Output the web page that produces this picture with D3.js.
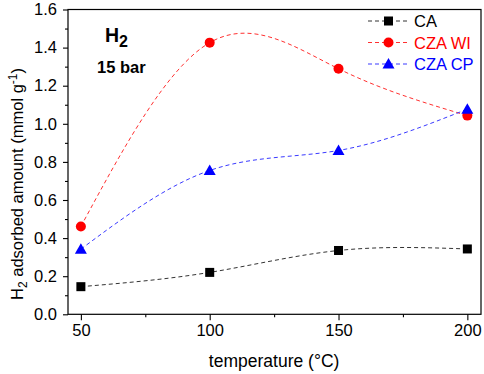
<!DOCTYPE html>
<html>
<head>
<meta charset="utf-8">
<script src="https://cdn.jsdelivr.net/npm/d3@7"></script>
<style>
  body { margin: 0; background: #fff; }
  text { font-family: "Liberation Sans", Arial, sans-serif; }
</style>
</head>
<body>
<script>
// temperatures (°C) and adsorbed amounts (mmol/g)
let temps = [50, 100, 150, 200];
let ca = [0.145, 0.22, 0.335, 0.343];
let czaWI = [0.461, 1.426, 1.289, 1.043];
let czaCP = [0.342, 0.755, 0.86, 1.077];
let yTicks = [0.0, 0.2, 0.4, 0.6, 0.8, 1.0, 1.2, 1.4, 1.6];
let xTicks = [50, 100, 150, 200];

let series = [
    {name: 'CA', values: ca, color: '#000', line: '#333', marker: 'square'},
    {name: 'CZA WI', values: czaWI, color: '#ff0000', line: '#ff3030', marker: 'circle'},
    {name: 'CZA CP', values: czaCP, color: '#0000ff', line: '#3a3aff', marker: 'triangle'}
];

let width = 484, height = 374;
let margin = {top: 9.5, right: 3, bottom: 60, left: 68};

let svg = d3.select('body').append('svg')
    .attr('width', width)
    .attr('height', height);

let x = d3.scaleLinear().domain([45, 205.3]).range([margin.left, width - margin.right]);
let y = d3.scaleLinear().domain([0, 1.6]).range([height - margin.bottom + 0.3, margin.top]);

// frame
svg.append('rect')
    .attr('x', x.range()[0]).attr('y', y.range()[1])
    .attr('width', x.range()[1] - x.range()[0])
    .attr('height', y.range()[0] - y.range()[1])
    .style('fill', 'none').style('stroke', '#000').style('stroke-width', 1.2);

// x axis
svg.append('g')
    .attr('transform', 'translate(0,' + y(0) + ')')
    .call(d3.axisBottom(x).tickValues(xTicks).tickSize(6).tickPadding(4).tickFormat(d3.format('d')));
svg.append('g')
    .attr('transform', 'translate(0,' + y(0) + ')')
    .call(d3.axisBottom(x).tickValues([75, 125, 175]).tickSize(3).tickFormat(''));

// y axis
svg.append('g')
    .attr('transform', 'translate(' + x.range()[0] + ',0)')
    .call(d3.axisLeft(y).tickValues(yTicks).tickSize(5).tickPadding(6).tickFormat(d3.format('.1f')));
svg.append('g')
    .attr('transform', 'translate(' + x.range()[0] + ',0)')
    .call(d3.axisLeft(y).tickValues(d3.range(0.1, 1.6, 0.2)).tickSize(3).tickFormat(''));

svg.selectAll('.domain').remove();
svg.selectAll('.tick line').style('stroke', '#000').style('stroke-width', 1.1);
svg.selectAll('.tick text').style('font-size', '16.5px').style('fill', '#000')
    .style('font-family', '"Liberation Sans", Arial, sans-serif');

// curves
let line = d3.line()
    .x((d, i) => x(temps[i]))
    .y(d => y(d))
    .curve(d3.curveNatural);

function drawMarker(sel, type, color, cx, cy) {
    if (type === 'square') {
        sel.append('rect').attr('x', cx - 4.5).attr('y', cy - 4.5)
            .attr('width', 9).attr('height', 9).style('fill', color);
    } else if (type === 'circle') {
        sel.append('circle').attr('cx', cx).attr('cy', cy).attr('r', 5)
            .style('fill', color);
    } else {
        let s = 6;
        sel.append('path')
            .attr('d', 'M' + cx + ',' + (cy - s) + 'L' + (cx + s) + ',' + (cy + s * 0.75) +
                'L' + (cx - s) + ',' + (cy + s * 0.75) + 'Z')
            .style('fill', color);
    }
}

series.forEach(s => {
    svg.append('path')
        .attr('d', line(s.values))
        .style('fill', 'none')
        .style('stroke', s.line)
        .style('stroke-width', 1)
        .style('stroke-dasharray', '4,3');
});

series.forEach(s => {
    let g = svg.append('g');
    s.values.forEach((v, i) => drawMarker(g, s.marker, s.color, x(temps[i]), y(v)));
});

// legend
series.forEach((s, i) => {
    let ly = 21 + i * 21.5;
    svg.append('line')
        .attr('x1', 368).attr('x2', 410).attr('y1', ly).attr('y2', ly)
        .style('stroke', s.line).style('stroke-width', 1).style('stroke-dasharray', '4,3');
    drawMarker(svg, s.marker, s.color, 388.5, ly);
    svg.append('text')
        .attr('x', 414).attr('y', ly + 6)
        .style('font-size', '16.5px').style('fill', s.color)
        .text(s.name);
});

// annotations
let h2 = svg.append('text').attr('x', 105).attr('y', 42)
    .style('font-size', '19.5px').style('font-weight', 'bold');
h2.append('tspan').text('H');
h2.append('tspan').attr('dy', 5).style('font-size', '16px').text('2');

svg.append('text').attr('x', 97).attr('y', 73)
    .style('font-size', '16.5px').style('font-weight', 'bold')
    .text('15 bar');

// axis titles
svg.append('text')
    .attr('x', x(125)).attr('y', 367)
    .attr('text-anchor', 'middle')
    .style('font-size', '17.5px')
    .text('temperature (°C)');

let yl = svg.append('text')
    .attr('transform', 'translate(23,184) rotate(-90)')
    .attr('text-anchor', 'middle')
    .style('font-size', '16.5px');
yl.append('tspan').text('H');
yl.append('tspan').attr('dy', 4).style('font-size', '12px').text('2');
yl.append('tspan').attr('dy', -4).text(' adsorbed amount (mmol g');
yl.append('tspan').attr('dy', -6).style('font-size', '12px').text('-1');
yl.append('tspan').attr('dy', 6).text(')');
</script>
</body>
</html>
